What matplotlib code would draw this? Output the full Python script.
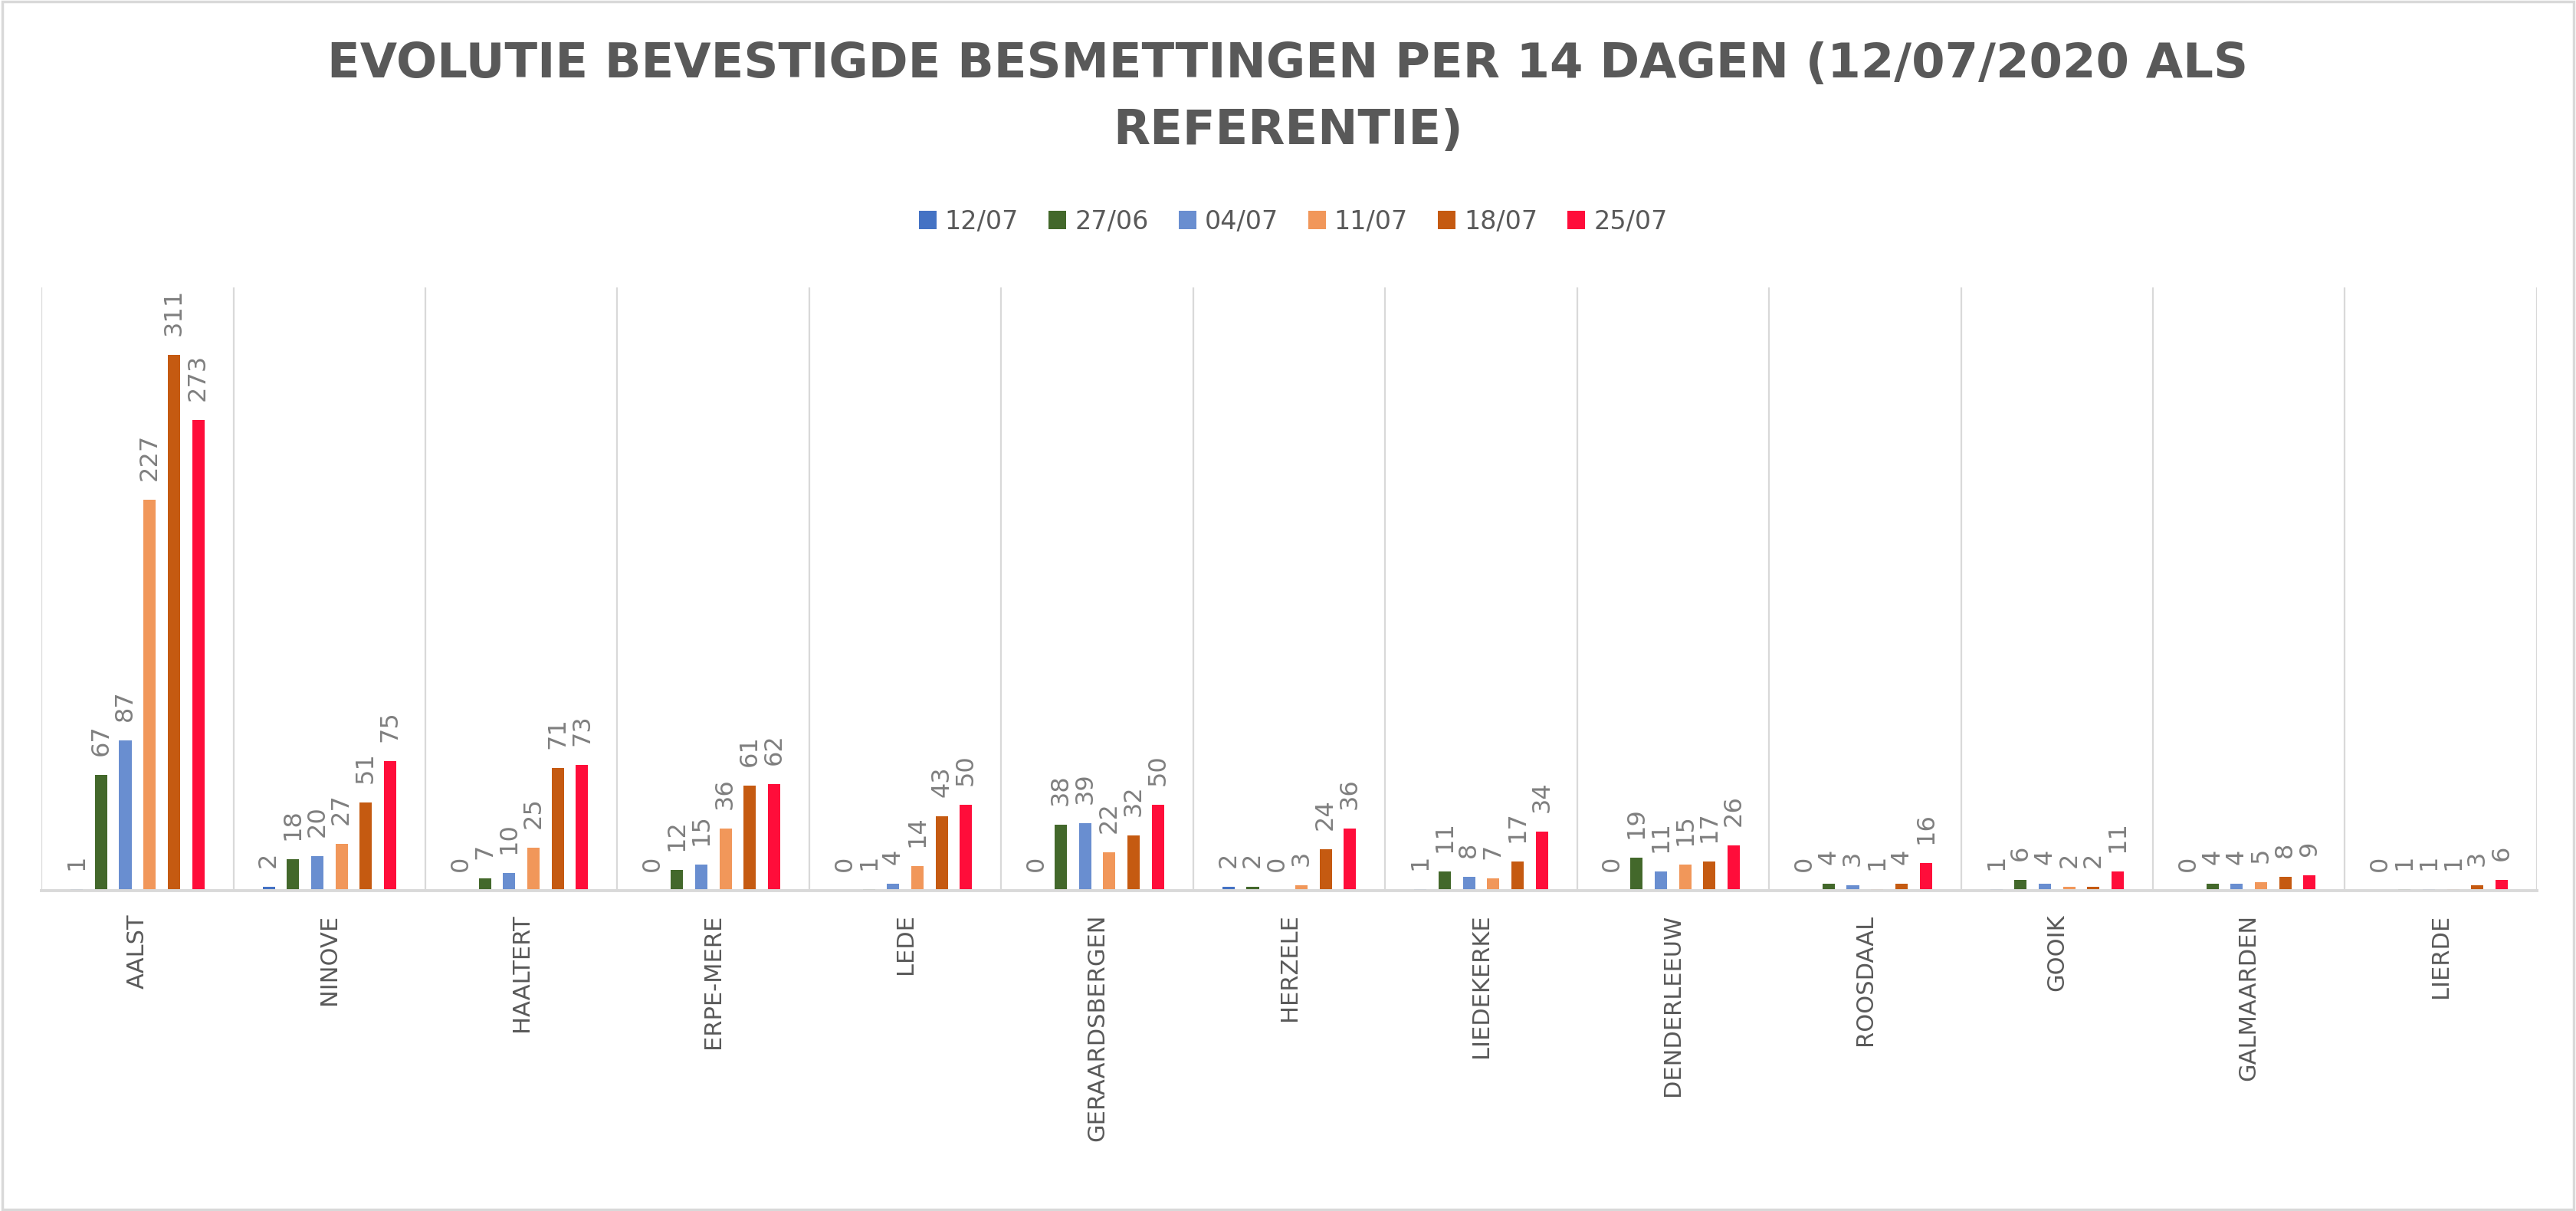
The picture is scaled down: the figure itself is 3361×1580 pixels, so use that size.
import numpy as np
import matplotlib
import matplotlib.pyplot as plt
from matplotlib.patches import Rectangle, Patch

matplotlib.use("agg")

gemeenten = ["AALST", "NINOVE", "HAALTERT", "ERPE-MERE", "LEDE", "GERAARDSBERGEN",
             "HERZELE", "LIEDEKERKE", "DENDERLEEUW", "ROOSDAAL", "GOOIK",
             "GALMAARDEN", "LIERDE"]
reeksen = ["12/07", "27/06", "04/07", "11/07", "18/07", "25/07"]

w_1207 = [1, 2, 0, 0, 0, 0, 2, 1, 0, 0, 1, 0, 0]
w_2706 = [67, 18, 7, 12, 1, 38, 2, 11, 19, 4, 6, 4, 1]
w_0407 = [87, 20, 10, 15, 4, 39, 0, 8, 11, 3, 4, 4, 1]
w_1107 = [227, 27, 25, 36, 14, 22, 3, 7, 15, 1, 2, 5, 1]
w_1807 = [311, 51, 71, 61, 43, 32, 24, 17, 17, 4, 2, 8, 3]
w_2507 = [273, 75, 73, 62, 50, 50, 36, 34, 26, 16, 11, 9, 6]

kleuren = ["#4472C4", "#43682B", "#698ED0", "#F1975A", "#C55A11", "#FF0D3A"]

GRIJS = "#595959"
LABELGRIJS = "#7F7F7F"
LIJN = "#D9D9D9"

fig = plt.figure(figsize=(33.61, 15.80), dpi=100)
ax = fig.add_axes([0.0161, 0.2646, 0.9687, 0.4981])

data = [w_1207, w_2706, w_0407, w_1107, w_1807, w_2507]
x = np.arange(len(gemeenten))
pitch = 0.1265
breedte = 0.064

for i, (reeks, waarden) in enumerate(zip(reeksen, data)):
    pos = x + (i - 2.5) * pitch
    ax.bar(pos, waarden, width=breedte, color=kleuren[i], label=reeks, zorder=3)
    for px, v in zip(pos, waarden):
        ax.annotate(str(v), (px, v), xytext=(0, 18),
                    textcoords="offset points", rotation=90, ha="center",
                    va="bottom", fontsize=23, color=LABELGRIJS)

ax.set_xlim(-0.5, len(gemeenten) - 0.5)
ax.set_ylim(0, 350)
for k in range(len(gemeenten) + 1):
    ax.axvline(k - 0.5, color=LIJN, lw=1.6, zorder=1)

for s in ["top", "left", "right"]:
    ax.spines[s].set_visible(False)
ax.spines["bottom"].set_color(LIJN)
ax.spines["bottom"].set_linewidth(2.8)
ax.spines["bottom"].set_zorder(4)
ax.set_yticks([])
ax.set_xticks(x)
ax.set_xticklabels(gemeenten, rotation=90, fontsize=22,
                   color=GRIJS, va="top", ha="center")
ax.tick_params(axis="x", length=0, pad=22)
ax.set_facecolor("none")

fig.text(0.5, 0.947, "EVOLUTIE BEVESTIGDE BESMETTINGEN PER 14 DAGEN (12/07/2020 ALS",
         ha="center", va="center", fontsize=45, fontweight="bold", color=GRIJS)
fig.text(0.5, 0.892, "REFERENTIE)",
         ha="center", va="center", fontsize=45, fontweight="bold", color=GRIJS)

handles = [Patch(facecolor=c, edgecolor="none") for c in kleuren]
fig.legend(handles, reeksen, loc="center", bbox_to_anchor=(0.502, 0.817), ncol=6,
           frameon=False, fontsize=24, labelcolor=GRIJS, handlelength=0.69,
           handleheight=0.69, handletextpad=0.33, columnspacing=1.17)

fig.patches.append(Rectangle((0.0008, 0.0015), 0.9984, 0.997, transform=fig.transFigure,
                             fill=False, edgecolor=LIJN, lw=2.5))

plt.savefig("out.png", dpi=100)
